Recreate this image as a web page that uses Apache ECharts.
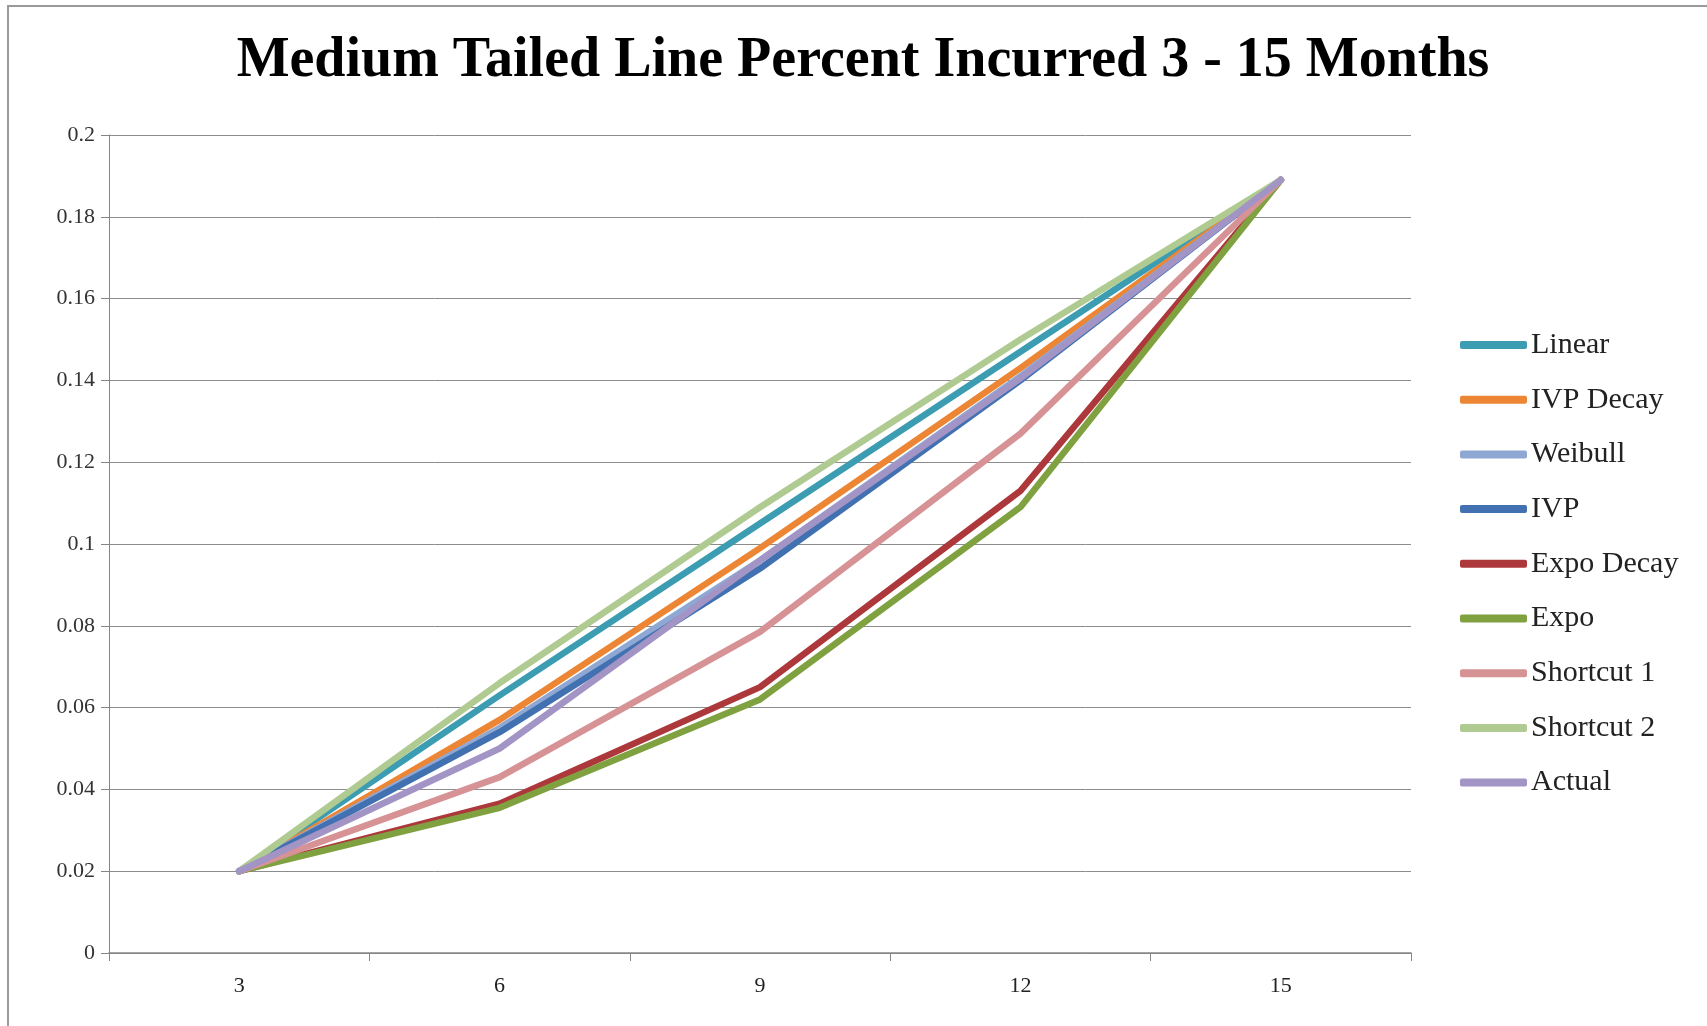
<!DOCTYPE html>
<html lang="en">
<head>
    <meta charset="utf-8">
    <title>Medium Tailed Line Percent Incurred 3 - 15 Months</title>
    <script src="https://cdn.jsdelivr.net/npm/echarts@6/dist/echarts.min.js"></script>
    <style>
        html, body { margin: 0; padding: 0; background: #fff; }
        #main { width: 1707px; height: 1026px; }
    </style>
</head>
<body>
<div id="main"></div>
<script>
    var months = ['3', '6', '9', '12', '15'];
    var yTicks = ['0', '0.02', '0.04', '0.06', '0.08', '0.1', '0.12', '0.14', '0.16', '0.18', '0.2'];

    var linear     = [0.020, 0.063, 0.105, 0.147, 0.189];
    var ivpDecay   = [0.020, 0.057, 0.099, 0.143, 0.189];
    var weibull    = [0.020, 0.055, 0.096, 0.141, 0.189];
    var ivp        = [0.020, 0.054, 0.094, 0.140, 0.189];
    var expoDecay  = [0.020, 0.0365, 0.065, 0.113, 0.189];
    var expo       = [0.020, 0.0355, 0.062, 0.109, 0.189];
    var shortcut1  = [0.020, 0.043, 0.0785, 0.127, 0.189];
    var shortcut2  = [0.020, 0.066, 0.109, 0.150, 0.189];
    var actual     = [0.020, 0.050, 0.096, 0.1405, 0.189];

    var names  = ['Linear', 'IVP Decay', 'Weibull', 'IVP', 'Expo Decay', 'Expo', 'Shortcut 1', 'Shortcut 2', 'Actual'];
    var values = [linear, ivpDecay, weibull, ivp, expoDecay, expo, shortcut1, shortcut2, actual];
    var colors = ['#3b9cb2', '#ec8635', '#8fa7d3', '#4271b2', '#ad383b', '#7fa140', '#d69295', '#b0cb92', '#a394c6'];

    var serif = '"Liberation Serif", "DejaVu Serif", serif';

    var myChart = echarts.init(document.getElementById('main'));

    var option = {
        backgroundColor: '#fff',
        color: colors,
        animation: false,
        title: {
            text: 'Medium Tailed Line Percent Incurred 3 - 15 Months',
            left: 858,
            top: 29,
            textAlign: 'center',
            textStyle: {
                fontFamily: serif,
                fontSize: 56,
                fontWeight: 'bold',
                color: '#000'
            }
        },
        legend: {
            orient: 'vertical',
            left: 1455,
            top: 325,
            itemWidth: 67,
            itemHeight: 8,
            itemGap: 24.7,
            icon: 'roundRect',
            textStyle: {
                fontFamily: serif,
                fontSize: 30,
                color: '#222',
                padding: [0, 0, 0, -1]
            },
            data: names
        },
        grid: {
            left: 109,
            right: 296,
            top: 135,
            bottom: 73
        },
        xAxis: {
            type: 'category',
            data: months,
            boundaryGap: true,
            axisLine: { lineStyle: { color: '#868686', width: 1.5 } },
            axisTick: { show: true, length: 8, lineStyle: { color: '#868686' } },
            axisLabel: {
                fontFamily: serif,
                fontSize: 22,
                color: '#222',
                margin: 22
            }
        },
        yAxis: {
            type: 'value',
            min: 0,
            max: 0.2,
            interval: 0.02,
            axisLine: { show: true, lineStyle: { color: '#868686' } },
            axisTick: { show: true, length: 8, lineStyle: { color: '#868686' } },
            splitLine: { lineStyle: { color: '#8c8c8c', width: 1 } },
            axisLabel: {
                fontFamily: serif,
                fontSize: 22,
                color: '#333',
                margin: 14,
                formatter: function (v) {
                    return yTicks[Math.round(v / 0.02)];
                }
            }
        },
        graphic: [{
            type: 'rect',
            shape: { x: 8, y: 6, width: 1720, height: 1040 },
            style: { fill: 'none', stroke: '#9a9a9a', lineWidth: 2 },
            silent: true
        }],
        series: names.map(function (name, i) {
            return {
                name: name,
                type: 'line',
                data: values[i],
                symbol: 'none',
                lineStyle: { width: 6.5, cap: 'round', join: 'round' },
                z: 2 + i
            };
        })
    };

    myChart.setOption(option);
</script>
</body>
</html>
